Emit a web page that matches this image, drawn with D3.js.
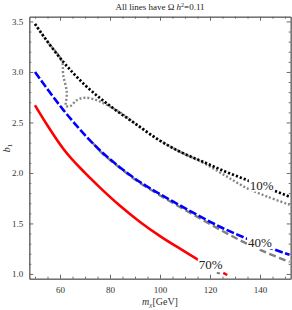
<!DOCTYPE html>
<html>
<head>
<meta charset="utf-8">
<script src="https://cdn.jsdelivr.net/npm/d3@7"></script>
<style>
body { margin: 0; background: white; }
svg { display: block; font-family: "Liberation Serif", "DejaVu Serif", serif; }
</style>
</head>
<body>
<div id="chart"></div>
<script>
// values: [m_chi, b1]
var black10 = [[50,3.475],[55,3.30],[61.3,3.10],[70,2.87],[81.3,2.64],[90,2.49],[99.3,2.33],[108,2.21],[117.3,2.11],[126,2.015],[134.7,1.93],[143,1.85],[151.8,1.765]];
var gray10 = [[50,3.475],[55,3.30],[60.7,3.11],[61.3,2.97],[62.7,2.80],[62.4,2.70],[62.2,2.665],[64,2.66],[66.7,2.72],[70,2.745],[74.7,2.72],[79,2.67],[84,2.60],[90,2.49],[99.3,2.33],[108,2.21],[117.3,2.10],[126,1.975],[134.7,1.85],[143,1.765],[151.8,1.685]];
var blue40 = [[50,3.0],[55,2.83],[61.3,2.625],[68,2.43],[75.3,2.24],[84,2.055],[92,1.91],[96,1.848],[105,1.72],[116,1.57],[125,1.455],[134.7,1.35],[142.7,1.27],[151.8,1.19]];
var gray40 = [[73,2.30],[75.3,2.235],[84,2.05],[92,1.90],[96,1.838],[105,1.705],[116,1.55],[125,1.425],[134.7,1.30],[142.7,1.21],[151.8,1.12]];
var red70 = [[50,2.67],[55,2.47],[61.3,2.24],[70,2.00],[76,1.855],[84,1.675],[92,1.515],[100,1.375],[108,1.25],[115.3,1.14]];
var red70Tail = [[125.3,1.01],[126.9,0.99]];
var gray70Tail = [[122.7,1.012],[124,1.005]];

var lineLabels = ["10%", "40%", "70%"];
var labelPos = [[140.7,1.88],[140,1.31],[120.3,1.09]];

var xMajor = [60, 80, 100, 120, 140];
var xMinor = [50, 55, 65, 70, 75, 85, 90, 95, 105, 110, 115, 125, 130, 135, 145, 150];
var yMajor = [1.0, 1.5, 2.0, 2.5, 3.0, 3.5];
var yMinor = [1.1,1.2,1.3,1.4,1.6,1.7,1.8,1.9,2.1,2.2,2.3,2.4,2.6,2.7,2.8,2.9,3.1,3.2,3.3,3.4];

var W = 292, H = 310;
var mLeft = 29.3, mRight = 290.7, mTop = 16.7, mBottom = 278.7;

var svg = d3.select("#chart").append("svg")
    .attr("width", W).attr("height", H);

var x = d3.scaleLinear().domain([47.72, 152.28]).range([mLeft, mRight]);
var y = d3.scaleLinear().domain([0.953, 3.547]).range([mBottom, mTop]);

var smooth = d3.line()
    .x(function(d) { return x(d[0]); })
    .y(function(d) { return y(d[1]); })
    .curve(d3.curveMonotoneX);
var loose = d3.line()
    .x(function(d) { return x(d[0]); })
    .y(function(d) { return y(d[1]); })
    .curve(d3.curveCatmullRom);

var plot = svg.append("g");
plot.append("clipPath").attr("id", "clip")
  .append("rect").attr("x", mLeft).attr("y", mTop)
  .attr("width", mRight - mLeft).attr("height", mBottom - mTop);
var lines = plot.append("g").attr("clip-path", "url(#clip)");

function drawLine(data, gen, color, width, dash) {
  lines.append("path")
      .datum(data)
      .attr("d", gen)
      .attr("fill", "none")
      .attr("stroke", color)
      .attr("stroke-width", width)
      .attr("stroke-dasharray", dash);
}

drawLine(gray10, loose, "#888", 2.4, "2,2");
drawLine(black10, smooth, "#000", 2.7, "2.2,2");
drawLine(gray40, smooth, "#808080", 2.4, "7,3.5");
drawLine(blue40, smooth, "#0000ff", 2.6, "8,2.5");
drawLine(red70, smooth, "#ff0000", 2.6, null);
drawLine(gray70Tail, smooth, "#808080", 2, null);
drawLine(red70Tail, smooth, "#ff0000", 2.4, null);

// labels with a white box behind them
lineLabels.forEach(function(t, i) {
  var g = plot.append("g");
  var txt = g.append("text")
      .attr("x", x(labelPos[i][0]))
      .attr("y", y(labelPos[i][1]))
      .attr("text-anchor", "middle")
      .attr("dominant-baseline", "central")
      .attr("font-size", "13px")
      .attr("fill", "#222")
      .text(t);
  var bb = txt.node().getBBox();
  g.insert("rect", "text")
      .attr("x", bb.x - 1).attr("y", bb.y + 1)
      .attr("width", bb.width + 2).attr("height", bb.height - 2)
      .attr("fill", "white");
});

// axes, ticks pointing inward
var axisColor = "#666";
function styleAxis(g) {
  g.selectAll("path").attr("stroke", axisColor).attr("stroke-width", 1);
  g.selectAll("line").attr("stroke", axisColor);
  g.selectAll("text").attr("fill", "#333").attr("font-size", "9px")
    .attr("font-family", "Liberation Serif");
}

svg.append("g").attr("transform", "translate(0," + mBottom + ")")
  .call(d3.axisBottom(x).tickValues(xMajor).tickSize(-4).tickPadding(8).tickSizeOuter(0))
  .call(styleAxis);
svg.append("g").attr("transform", "translate(0," + mBottom + ")")
  .call(d3.axisBottom(x).tickValues(xMinor).tickSize(-2).tickFormat("").tickSizeOuter(0))
  .call(styleAxis);
svg.append("g").attr("transform", "translate(0," + mTop + ")")
  .call(d3.axisTop(x).tickValues(xMajor).tickSize(-4).tickFormat("").tickSizeOuter(0))
  .call(styleAxis);
svg.append("g").attr("transform", "translate(0," + mTop + ")")
  .call(d3.axisTop(x).tickValues(xMinor).tickSize(-2).tickFormat("").tickSizeOuter(0))
  .call(styleAxis);

svg.append("g").attr("transform", "translate(" + mLeft + ",0)")
  .call(d3.axisLeft(y).tickValues(yMajor).tickSize(-4).tickPadding(6).tickFormat(d3.format(".1f")).tickSizeOuter(0))
  .call(styleAxis);
svg.append("g").attr("transform", "translate(" + mLeft + ",0)")
  .call(d3.axisLeft(y).tickValues(yMinor).tickSize(-2).tickFormat("").tickSizeOuter(0))
  .call(styleAxis);
svg.append("g").attr("transform", "translate(" + mRight + ",0)")
  .call(d3.axisRight(y).tickValues(yMajor).tickSize(-4).tickFormat("").tickSizeOuter(0))
  .call(styleAxis);
svg.append("g").attr("transform", "translate(" + mRight + ",0)")
  .call(d3.axisRight(y).tickValues(yMinor).tickSize(-2).tickFormat("").tickSizeOuter(0))
  .call(styleAxis);

// title
var title = svg.append("text")
    .attr("x", 160).attr("y", 10)
    .attr("text-anchor", "middle")
    .attr("font-size", "9px")
    .attr("fill", "#222");
title.append("tspan").text("All lines have \u03A9 ");
title.append("tspan").attr("font-style", "italic").text("h");
title.append("tspan").attr("font-size", "6px").attr("dy", -3.5).text("2");
title.append("tspan").attr("dy", 3.5).text("=0.11");

// x label
var xl = svg.append("text")
    .attr("x", 160).attr("y", 305)
    .attr("text-anchor", "middle")
    .attr("font-size", "10px")
    .attr("fill", "#333");
xl.append("tspan").attr("font-style", "italic").text("m");
xl.append("tspan").attr("font-style", "italic").attr("font-size", "7px").attr("dy", 2).text("\u03C7");
xl.append("tspan").attr("dy", -2).text("[GeV]");

// y label
var yl = svg.append("text")
    .attr("transform", "translate(10,148) rotate(-90)")
    .attr("text-anchor", "middle")
    .attr("font-size", "10px")
    .attr("fill", "#333");
yl.append("tspan").attr("font-style", "italic").text("b");
yl.append("tspan").attr("font-size", "7px").attr("dy", 2).text("1");
</script>
</body>
</html>
